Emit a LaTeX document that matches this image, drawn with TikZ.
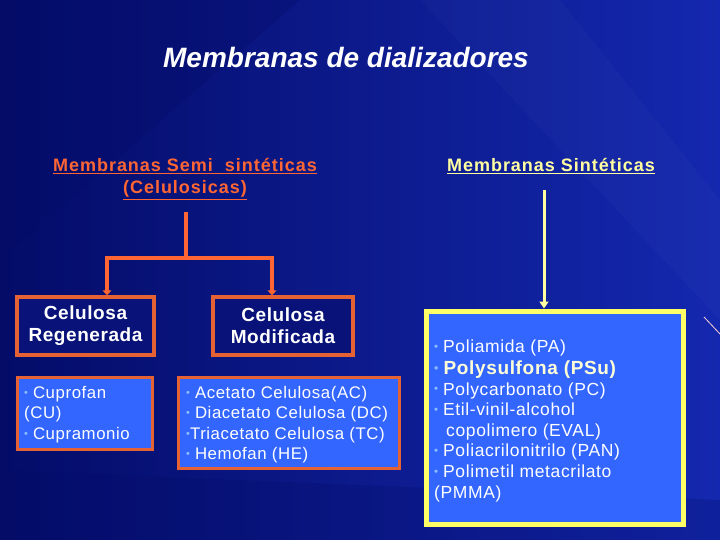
\documentclass[tikz,border=0pt]{standalone}
\usepackage{fontspec}
\setmainfont{Liberation Sans}
\newfontfamily\wideH[LetterSpace=5.5]{Liberation Sans}
\newfontfamily\wideB[LetterSpace=3]{Liberation Sans}
\newfontfamily\wideL[LetterSpace=3.5]{Liberation Sans}
\usetikzlibrary{arrows.meta,calc}
\definecolor{bgA}{RGB}{4,12,104}
\definecolor{bgB}{RGB}{20,40,175}
\definecolor{orng}{RGB}{255,102,51}
\definecolor{orbox}{RGB}{228,98,52}
\definecolor{paleY}{RGB}{255,255,160}
\definecolor{cream}{RGB}{255,255,215}
\definecolor{ybox}{RGB}{255,255,102}
\definecolor{lblue}{RGB}{51,102,255}
\definecolor{navy}{RGB}{8,18,120}
\definecolor{bul}{RGB}{140,190,255}
\newcommand{\bl}{{\color{bul}\raisebox{0.12em}{\scalebox{0.65}{\textbullet}}}\hspace{5pt}}
\newcommand{\blt}{{\color{bul}\raisebox{0.12em}{\scalebox{0.65}{\textbullet}}}}
\tikzset{
  head/.style={font=\wideH\bfseries\fontsize{18}{22}\selectfont, align=center, inner sep=0pt},
  darkbox/.style={draw=orbox, line width=3.5pt, fill=navy, text=white, font=\wideB\bfseries\fontsize{19}{22}\selectfont, align=center, inner sep=0pt},
  listbox/.style={draw=orbox, line width=3pt, fill=lblue, inner sep=0pt},
  synbox/.style={draw=ybox, line width=5pt, fill=lblue, inner sep=0pt},
  listtxt/.style={text=white, font=\wideL\fontsize{16.8}{20.5}\selectfont, align=left, inner sep=0pt, anchor=north west},
  oconn/.style={draw=orng, line width=3.5pt},
  yconn/.style={draw=paleY, line width=3pt},
}
\begin{document}
\begin{tikzpicture}[x=1pt,y=-1pt]
\useasboundingbox (0,0) rectangle (720,540);
\shade[left color=bgA, right color=bgB] (0,0) rectangle (720,540);
\fill[bgA, opacity=0.3] (0,0) -- (300,0) -- (0,260) -- cycle;
\fill[bgA, opacity=0.25] (0,470) -- (720,500) -- (720,540) -- (0,540) -- cycle;
\fill[white, opacity=0.02] (420,0) -- (560,0) -- (720,200) -- (720,320) -- cycle;
\draw[pink!70, line width=0.8pt] (704,317) -- (720,334);

\node[text=white, font=\bfseries\itshape\fontsize{28}{32}\selectfont, inner sep=0pt] (title) at (346,58) {Membranas de dializadores};

\node[head, text=orng] (semi) at (185,179) {\underline{Membranas Semi\ \ sintéticas}\\[0pt]\underline{(Celulosicas)}};
\node[head, text=paleY] (sint) at (551,166) {\underline{Membranas Sintéticas}};

\node[darkbox, minimum width=137pt, minimum height=58pt] (reg) at (85.5,326) {Celulosa\\Regenerada};
\node[darkbox, minimum width=140pt, minimum height=58pt] (mod) at (283,326) {Celulosa\\Modificada};

\node[listbox, minimum width=135pt, minimum height=72pt] (regl) at (84.5,413) {};
\node[listbox, minimum width=221pt, minimum height=91pt] (modl) at (288.5,422.5) {};
\node[synbox, minimum width=257pt, minimum height=213pt] (syn) at (554.5,417.5) {};

\node[listtxt] (regt) at (24,386) {\bl Cuprofan\\(CU)\\\bl Cupramonio};
\node[listtxt] (modt) at (186,386) {\bl Acetato Celulosa(AC)\\\bl Diacetato Celulosa (DC)\\\blt Triacetato Celulosa (TC)\\\bl Hemofan (HE)};
\node[listtxt, font=\wideL\fontsize{17.5}{20.6}\selectfont] (synt) at (434,340) {\bl Poliamida (PA)\\[1pt]
{\fontsize{19}{20.6}\selectfont\bl\color{cream}\bfseries Polysulfona (PSu)}\\
\bl Polycarbonato (PC)\\
\bl Etil-vinil-alcohol\\
\hspace*{12pt}copolimero (EVAL)\\
\bl Poliacrilonitrilo (PAN)\\
\bl Polimetil metacrilato\\
(PMMA)};

\coordinate (jn) at (186,258);
\draw[oconn] (186,212) -- (jn);
\draw[oconn, -{Triangle[length=5pt,width=9pt]}] (jn) -| ([xshift=21.5pt]reg.north);
\draw[oconn, -{Triangle[length=5pt,width=9pt]}] (jn) -| ([xshift=-11pt]mod.north);
\draw[yconn, -{Triangle[length=7pt,width=9pt]}] (544,190) -- ([xshift=-10.5pt]syn.north);
\end{tikzpicture}
\end{document}
